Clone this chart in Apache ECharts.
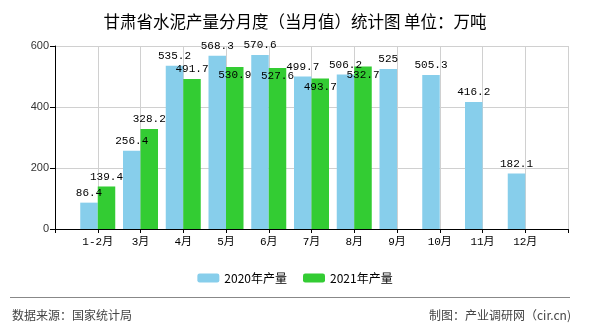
<!DOCTYPE html>
<html>
<head>
<meta charset="utf-8">
<script src="https://cdn.jsdelivr.net/npm/echarts@6/dist/echarts.min.js"></script>
<style>
html,body{margin:0;padding:0;background:#fff;}
#chart{width:590px;height:330px;}
</style>
</head>
<body>
<div id="chart"></div>
<script>
const titleText = '甘肃省水泥产量分月度（当月值）统计图 单位：万吨';
const months = ['1-2月','3月','4月','5月','6月','7月','8月','9月','10月','11月','12月'];
const series2020Name = '2020年产量';
const series2021Name = '2021年产量';
const values2020 = [86.4, 256.4, 535.2, 568.3, 570.6, 499.7, 506.2, 525, 505.3, 416.2, 182.1];
const values2021 = [139.4, 328.2, 491.7, 530.9, 527.6, 493.7, 532.7];
const yTicks = [0, 200, 400, 600];
const sourceText = '数据来源：国家统计局';
const makerText = '制图：产业调研网（cir.cn)';
// months whose 2021 label is drawn inside the bar top (overlap avoidance in original)
const insideLabelMonths = ['5月','6月','7月','8月'];

const cats = [''].concat(months).concat(['']);
function pad(vals){
  const out = ['-'];
  for (let i = 0; i < months.length; i++) out.push(i < vals.length ? vals[i] : '-');
  out.push('-');
  return out;
}
const d2020 = pad(values2020);
const d2021 = pad(values2021).map(function(v, i){
  if (v !== '-' && insideLabelMonths.indexOf(cats[i]) >= 0) {
    return {value: v, label: {position: 'insideTop', distance: 3}};
  }
  return v;
});

const monoFont = "'Liberation Mono', 'Noto Sans CJK SC', monospace";
const chart = echarts.init(document.getElementById('chart'), null, {renderer: 'canvas'});
chart.setOption({
  animation: false,
  backgroundColor: '#fff',
  title: {
    text: titleText,
    left: 'center',
    top: 8,
    textStyle: {fontSize: 16.5, fontWeight: 'normal', color: '#000', fontFamily: "'Noto Sans CJK SC', sans-serif"}
  },
  legend: {
    data: [series2020Name, series2021Name],
    left: 'center',
    top: 267,
    itemWidth: 22,
    itemHeight: 9,
    itemGap: 16,
    textStyle: {fontSize: 12, color: '#000', fontFamily: "'Noto Sans CJK SC', sans-serif"}
  },
  grid: {left: 55, right: 22, top: 46, bottom: 101, containLabel: false},
  xAxis: {
    type: 'category',
    data: cats,
    boundaryGap: false,
    axisLine: {lineStyle: {color: '#000', width: 1}},
    axisTick: {show: true, length: 4, interval: 0, lineStyle: {color: '#000'}},
    axisLabel: {interval: 0, color: '#000', fontSize: 11, margin: 8, fontFamily: monoFont},
    splitLine: {show: true, interval: 0, lineStyle: {color: '#d0d0d0', width: 1}}
  },
  yAxis: {
    type: 'value',
    min: yTicks[0],
    max: yTicks[yTicks.length - 1],
    interval: yTicks[1] - yTicks[0],
    axisLine: {show: true, lineStyle: {color: '#000', width: 1}},
    axisTick: {show: true, length: 5, lineStyle: {color: '#000'}},
    axisLabel: {color: '#333', fontSize: 11, margin: 6, fontFamily: "'Liberation Sans', Arial, sans-serif"},
    splitLine: {show: true, lineStyle: {color: '#d0d0d0', width: 1}}
  },
  series: [
    {
      name: series2020Name,
      type: 'bar',
      data: d2020,
      barWidth: 17.5,
      barGap: '0%',
      itemStyle: {color: '#87CEEB'},
      label: {show: true, position: 'top', distance: 4, color: '#000', fontSize: 11, fontFamily: monoFont}
    },
    {
      name: series2021Name,
      type: 'bar',
      data: d2021,
      barWidth: 17.5,
      barGap: '0%',
      itemStyle: {color: '#33CC33'},
      label: {show: true, position: 'top', distance: 4, color: '#000', fontSize: 11, fontFamily: monoFont}
    }
  ],
  graphic: [
    {type: 'line', shape: {x1: 10, y1: 297.5, x2: 570, y2: 297.5}, style: {stroke: '#888', lineWidth: 1}},
    {type: 'text', left: 12, top: 309, style: {text: sourceText, fill: '#444', fontSize: 12, fontFamily: "'Noto Sans CJK SC', sans-serif"}},
    {type: 'text', right: 19, top: 309, style: {text: makerText, fill: '#444', fontSize: 12, fontFamily: "'Noto Sans CJK SC', sans-serif"}}
  ]
});
</script>
</body>
</html>
